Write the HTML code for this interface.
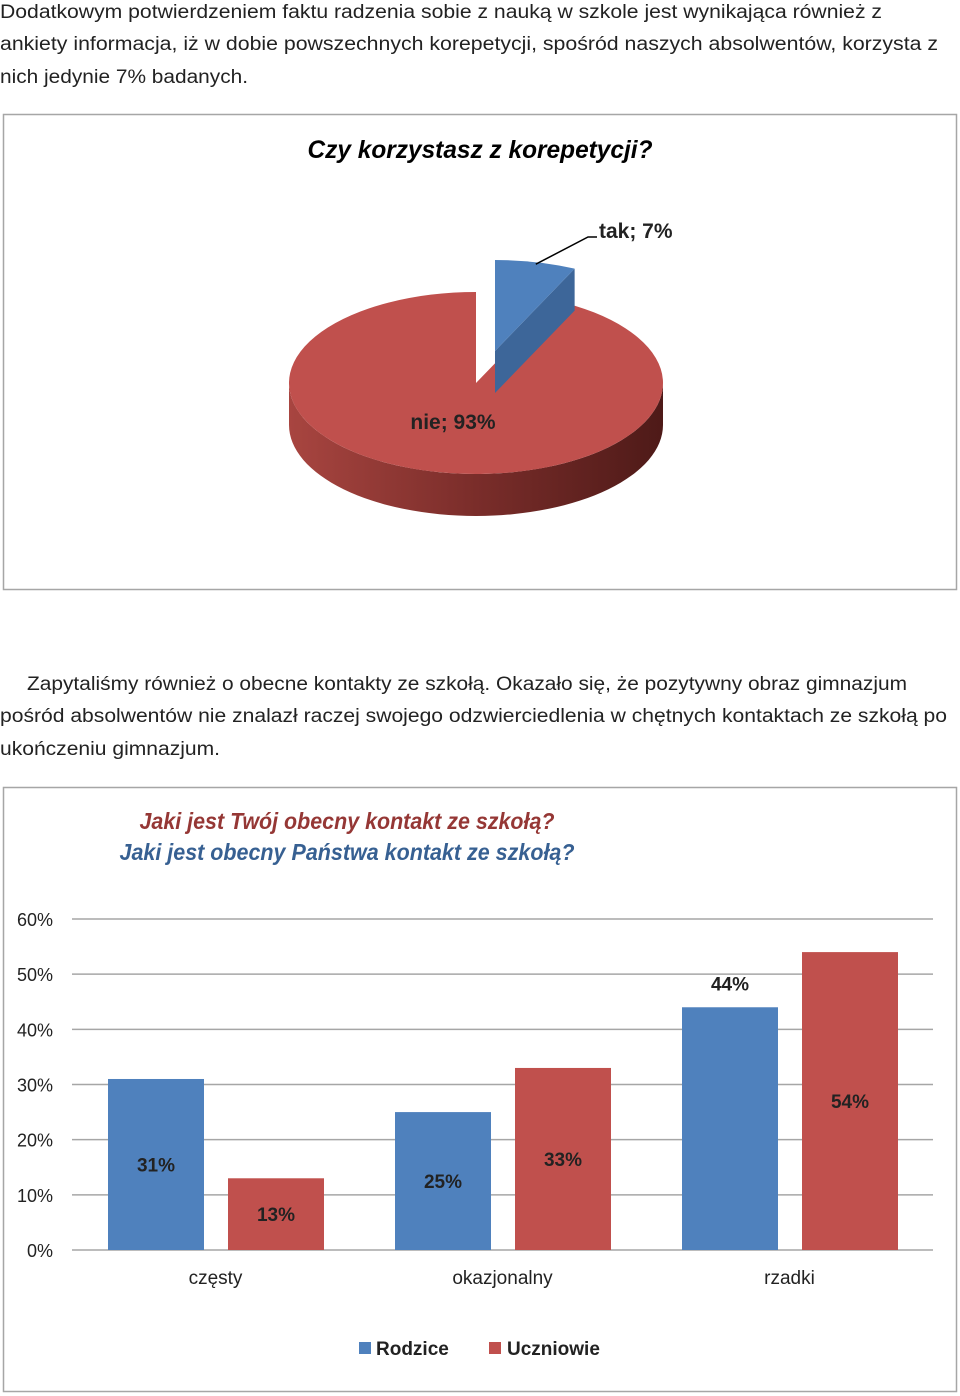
<!DOCTYPE html>
<html><head><meta charset="utf-8"><style>
html,body{margin:0;padding:0;background:#fff;}
svg{display:block;font-family:"Liberation Sans","DejaVu Sans",sans-serif;}
</style></head><body>
<svg id="page" width="960" height="1396" viewBox="0 0 960 1396">
<defs>
<linearGradient id="sideGrad" x1="0" x2="1" y1="0" y2="0">
<stop offset="0" stop-color="#a84540"/><stop offset="0.5" stop-color="#7a2d2a"/><stop offset="1" stop-color="#4e1a18"/>
</linearGradient>
</defs>
<g font-size="19" fill="#222">
<text x="0" y="18" textLength="882" lengthAdjust="spacingAndGlyphs">Dodatkowym potwierdzeniem faktu radzenia sobie z nauką w szkole jest wynikająca również z</text>
<text x="0" y="50" textLength="938" lengthAdjust="spacingAndGlyphs">ankiety informacja, iż w dobie powszechnych korepetycji, spośród naszych absolwentów,  korzysta z</text>
<text x="0" y="83" textLength="248" lengthAdjust="spacingAndGlyphs">nich jedynie 7% badanych.</text>
</g>
<rect x="3.5" y="114.5" width="953" height="475" fill="#fff" stroke="#a6a6a6" stroke-width="1.5"/>
<text x="480" y="158" text-anchor="middle" font-size="25" font-weight="bold" font-style="italic" fill="#000" textLength="345" lengthAdjust="spacingAndGlyphs">Czy korzystasz z korepetycji?</text>
<g id="pie"></g>
<g font-size="19" fill="#222">
<text x="27" y="690" textLength="880" lengthAdjust="spacingAndGlyphs">Zapytaliśmy również o obecne kontakty ze szkołą. Okazało się, że pozytywny obraz gimnazjum</text>
<text x="0" y="722" textLength="947" lengthAdjust="spacingAndGlyphs">pośród absolwentów nie znalazł raczej swojego odzwierciedlenia w chętnych kontaktach ze szkołą po</text>
<text x="0" y="755" textLength="220" lengthAdjust="spacingAndGlyphs">ukończeniu gimnazjum.</text>
</g>
<rect x="3.5" y="787.5" width="953" height="604" fill="#fff" stroke="#a6a6a6" stroke-width="1.5"/>
<text x="347" y="829" text-anchor="middle" font-size="23" font-weight="bold" font-style="italic" fill="#953735" textLength="415" lengthAdjust="spacingAndGlyphs">Jaki jest Twój obecny kontakt ze szkołą?</text>
<text x="347" y="860" text-anchor="middle" font-size="23" font-weight="bold" font-style="italic" fill="#376092" textLength="455" lengthAdjust="spacingAndGlyphs">Jaki jest obecny Państwa kontakt ze szkołą?</text>
<g id="bars"></g>
<g>
<rect x="359" y="1342" width="12" height="12" fill="#4f81bd"/>
<text x="376" y="1355" font-size="19" font-weight="bold" fill="#222">Rodzice</text>
<rect x="489" y="1342" width="12" height="12" fill="#c0504d"/>
<text x="507" y="1355" font-size="19" font-weight="bold" fill="#222">Uczniowie</text>
</g>
</svg>
<script>
// ---- pie data ----
const pieLabels = ["tak", "nie"];
const pieValues = [7, 93];
// ---- bar data ----
const categories = ["częsty", "okazjonalny", "rzadki"];
const rodzice = [31, 25, 44];
const uczniowie = [13, 33, 54];
const yTicks = [0, 10, 20, 30, 40, 50, 60];

const NS = "http://www.w3.org/2000/svg";
function mk(tag, attrs, parent){const e=document.createElementNS(NS,tag);for(const k in attrs)e.setAttribute(k,attrs[k]);parent.appendChild(e);return e;}

// PIE
(function(){
  const g=document.getElementById('pie');
  const cx=476, cy=383, rx=187, ry=91, depth=42;
  const total=pieValues.reduce((a,b)=>a+b,0);
  const pt=(a,ox,oy,dy)=>[cx+ox+rx*Math.sin(a), cy+oy+(dy||0)-ry*Math.cos(a)];
  let start=0;
  const slices=pieValues.map(v=>{const s=start;start+=v/total*2*Math.PI;return [s,start];});
  // red (nie) slice: index 1
  const [r0,r1]=slices[1];
  // side wall (visible bottom part, angles 90..270 deg)
  const sa=Math.max(r0,Math.PI/2), ea=Math.min(r1,3*Math.PI/2);
  const p1=pt(sa,0,0), p2=pt(ea,0,0);
  const side=mk('path',{d:`M${p1[0]},${p1[1]} A${rx},${ry} 0 0 1 ${p2[0]},${p2[1]} L${p2[0]},${p2[1]+depth} A${rx},${ry} 0 0 0 ${p1[0]},${p1[1]+depth} Z`,fill:'url(#sideGrad)'},g);
  
  
  const a=pt(r0,0,0), b=pt(r1,0,0);
  const large=(r1-r0)>Math.PI?1:0;
  const top=mk('path',{d:`M${cx},${cy} L${a[0]},${a[1]} A${rx},${ry} 0 ${large} 1 ${b[0]},${b[1]} Z`,fill:'#c0504d'},g);
  
  
  // blue (tak) slice exploded
  const [b0,b1]=slices[0];
  const ox=19, oy=-32;
  const c=pt(b0,ox,oy), d=pt(b1,ox,oy);
  const cside=mk('path',{d:`M${cx+ox},${cy+oy} L${d[0]},${d[1]} L${d[0]},${d[1]+depth} L${cx+ox},${cy+oy+depth} Z`,fill:'#3d6699'},g);
  
  
  const bt=mk('path',{d:`M${cx+ox},${cy+oy} L${c[0]},${c[1]} A${rx},${ry} 0 0 1 ${d[0]},${d[1]} Z`,fill:'#4f81bd'},g);
  
  
  // leader line
  const mid=pt((b0+b1)/2,ox,oy);
  const ll=mk('polyline',{points:`${mid[0]},${mid[1]+2} 588,237 597,237`,fill:'none',stroke:'#000','stroke-width':1.5},g);
  
  
  const t1=mk('text',{x:599,y:238,'font-size':21,'font-weight':'bold',fill:'#222'},g);
  t1.textContent=pieLabels[0]+'; '+pieValues[0]+'%';
  
  
  const t2=mk('text',{x:453,y:429,'font-size':21,'font-weight':'bold',fill:'#222','text-anchor':'middle'},g);
  t2.textContent=pieLabels[1]+'; '+pieValues[1]+'%';
  
  
})();

// BARS
(function(){
  const g=document.getElementById('bars');
  const x0=72, x1=933, yBase=1250, yMax=60, pxPer=(1250-919)/60;
  const y=v=>yBase-v*pxPer;
  yTicks.forEach(t=>{
    const l=mk('line',{x1:x0,x2:x1,y1:y(t),y2:y(t),stroke:'#a6a6a6','stroke-width':1.5},g);
    
    
    const tx=mk('text',{x:53,y:y(t)+7,'font-size':18,fill:'#222','text-anchor':'end'},g);
    tx.textContent=t+'%';
    
    
  });
  const gw=(x1-x0)/categories.length, bw=96;
  categories.forEach((cat,i)=>{
    const gx=x0+i*gw;
    [[rodzice,'#4f81bd',36,'rodzice'],[uczniowie,'#c0504d',156,'uczniowie']].forEach(([arr,col,off,nm])=>{
      const v=arr[i], bx=gx+off;
      const r=mk('rect',{x:bx,y:y(v),width:bw,height:yBase-y(v),fill:col},g);
      
      
      let ly=(y(v)+yBase)/2+7;
      if(nm==='rodzice' && i===2) ly=y(v)-17;
      const lt=mk('text',{x:bx+bw/2,y:ly,'font-size':19,'font-weight':'bold',fill:'#222','text-anchor':'middle'},g);
      lt.textContent=v+'%';
      
      
    });
    const ct=mk('text',{x:gx+gw/2,y:1284,'font-size':19,fill:'#222','text-anchor':'middle'},g);
    ct.textContent=cat;
    
    
  });
})();
</script>
</body></html>
